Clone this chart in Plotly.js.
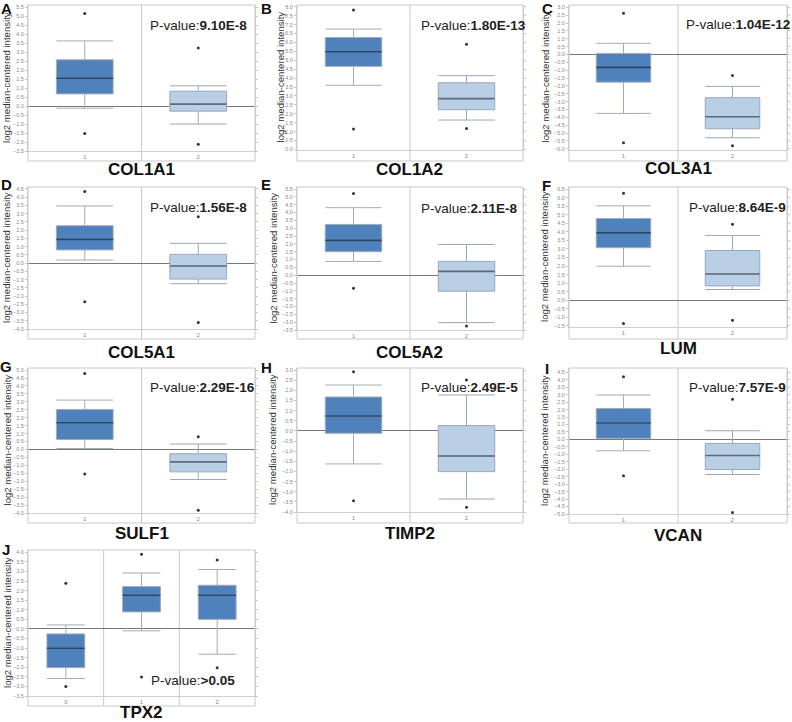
<!DOCTYPE html>
<html><head><meta charset="utf-8">
<script src="https://cdn.plot.ly/plotly-3.0.1.min.js"></script>
<style>body{margin:0;background:#fff}#chart{width:792px;height:722px}</style>
</head><body><div id="chart"></div>
<script>
// ---------- data ----------
const panelLetters = ['A','B','C','D','E','F','G','H','I','J'];
const genes = ['COL1A1','COL1A2','COL3A1','COL5A1','COL5A2','LUM','SULF1','TIMP2','VCAN','TPX2'];
const pValues = ['9.10E-8','1.80E-13','1.04E-12','1.56E-8','2.11E-8','8.64E-9','2.29E-16','2.49E-5','7.57E-9','>0.05'];
const groupLabels = [['1','2'],['1','2'],['1','2'],['1','2'],['1','2'],['1','2'],['1','2'],['1','2'],['1','2'],['0','1','2']];
const q1Vals = [[0.68,-0.28],[4.66,2.23],[-1.76,-4.73],[0.80,-0.97],[1.50,-1.02],[3.07,0.84],[0.63,-1.41],[-0.12,-2.01],[0.07,-2.02],[-2.02,0.89,0.50]];
const medianVals = [[1.55,0.11],[5.48,2.85],[-0.82,-3.96],[1.44,-0.18],[2.22,0.24],[3.94,1.54],[1.68,-0.78],[0.73,-1.24],[1.10,-1.08],[-1.01,1.76,1.76]];
const q3Vals = [[2.58,0.83],[6.28,3.74],[0.07,-2.75],[2.27,0.53],[3.24,0.88],[4.78,2.91],[2.52,-0.27],[1.67,0.26],[2.08,-0.27],[-0.26,2.21,2.28]];
const lowerWhisker = [[-0.12,-1.00],[3.60,1.65],[-3.75,-5.30],[0.19,-1.25],[0.88,-3.03],[1.99,0.63],[0.06,-1.89],[-1.63,-3.36],[-0.76,-2.35],[-2.59,-0.10,-1.32]];
const upperWhisker = [[3.63,1.13],[6.75,4.14],[0.71,-2.03],[3.47,1.20],[4.31,1.96],[5.52,3.79],[3.11,0.34],[2.26,1.77],[2.98,0.58],[0.21,2.92,3.10]];
const maxPoints = [[5.15,3.24],[7.82,5.90],[2.62,-1.33],[4.34,2.82],[5.22,null],[6.25,4.45],[4.79,0.80],[2.92,2.51],[4.21,2.69],[2.38,3.90,3.60]];
const minPoints = [[-1.52,-2.12],[1.15,1.17],[-5.62,-5.81],[-2.34,-3.60],[-0.84,-3.25],[-1.36,-1.16],[-1.55,-3.82],[-3.44,-3.77],[-2.43,-4.90],[-3.00,-2.51,-2.02]];
const yRanges = [[-2.5,5.63],[-0.03,8.1],[-6.08,3.15],[-4.0,4.62],[-3.5,5.63],[-1.56,6.62],[-4.0,5.13],[-4.0,3.1],[-5.0,4.79],[-3.5,4.12]];

// ---------- geometry (pixels) ----------
const W = 792, H = 722;
const cols = [[28,255],[297,523],[569,787]];
const geom = [
  {c:0, top:5,   axB:151, frB:161, tY:170, pX:148, pY:26,  lX:6,   lY:8,   yt:7},
  {c:1, top:5,   axB:150, frB:161, tY:170, pX:419, pY:26,  lX:266, lY:8,   yt:280},
  {c:2, top:5,   axB:150, frB:161, tY:168, pX:684, pY:24,  lX:547, lY:8,   yt:545},
  {c:0, top:187, axB:329, frB:339, tY:352, pX:148, pY:207, lX:6,   lY:184, yt:7},
  {c:1, top:187, axB:330, frB:339, tY:352, pX:419, pY:208, lX:266, lY:184, yt:273},
  {c:2, top:187, axB:327, frB:339, tY:349, pX:687, pY:207, lX:546, lY:185, yt:544},
  {c:0, top:368, axB:513, frB:523, tY:533, pX:148, pY:387, lX:6,   lY:366, yt:7},
  {c:1, top:368, axB:512, frB:523, tY:533, pX:419, pY:387, lX:266, lY:367, yt:273},
  {c:2, top:368, axB:514, frB:523, tY:535, pX:687, pY:387, lX:547, lY:368, yt:544},
  {c:0, top:550, axB:696, frB:706, tY:712, pX:149, pY:680, lX:6,   lY:549, yt:7}
];
const fx = x => x / W;
const fy = y => 1 - y / H;

const DARK = '#4f81bd', LIGHT = '#b9cfe6';
const FONT = 'Liberation Sans, Arial, sans-serif';

const traces = [];
const layout = {
  width: W, height: H, margin: {l:0, r:0, t:0, b:0},
  paper_bgcolor: '#fff', plot_bgcolor: '#fff',
  showlegend: false, shapes: [], annotations: []
};

genes.forEach((gene, p) => {
  const g = geom[p];
  const [L, R] = cols[g.c];
  const n = groupLabels[p].length;
  const xa = 'x' + (p ? p + 1 : ''), ya = 'y' + (p ? p + 1 : '');
  const xk = 'xaxis' + (p ? p + 1 : ''), yk = 'yaxis' + (p ? p + 1 : '');
  const idx = groupLabels[p].map((_, i) => i);

  layout[xk] = {
    domain: [fx(L), fx(R)], anchor: ya, range: [-0.5, n - 0.5],
    tickvals: idx, ticktext: groupLabels[p], showgrid: false, zeroline: false,
    showline: true, linecolor: '#cfcfcf', linewidth: 1, ticks: '',
    tickfont: {size: 6, color: '#888', family: FONT}, fixedrange: true
  };
  layout[yk] = {
    domain: [fy(g.axB), fy(g.top)], anchor: xa, range: yRanges[p],
    dtick: 0.5, tick0: 0, tickformat: '.1f', showgrid: false,
    zeroline: true, zerolinecolor: '#777', zerolinewidth: 1,
    showline: true, linecolor: '#cfcfcf', linewidth: 1, mirror: 'ticks',
    ticks: 'outside', ticklen: 2, tickcolor: '#c4c4c4', tickwidth: 1,
    tickfont: {size: 5.5, color: '#8a8a8a', family: FONT}, fixedrange: true
  };

  // frame and separators
  layout.shapes.push({type:'rect', xref:'paper', yref:'paper', x0:fx(L), x1:fx(R), y0:fy(g.frB), y1:fy(g.top),
    line:{color:'#c8c8c8', width:1}, layer:'above'});
  for (let s = 0; s < n - 1; s++) {
    layout.shapes.push({type:'line', xref:xa, yref:'paper', x0:s + 0.5, x1:s + 0.5, y0:fy(g.frB), y1:fy(g.top),
      line:{color:'#c8c8c8', width:1}, layer:'below'});
  }

  idx.forEach(i => {
    const light = (p < 9 && i === 1);
    traces.push({
      type:'box', xaxis:xa, yaxis:ya, x:[i],
      q1:[q1Vals[p][i]], median:[medianVals[p][i]], q3:[q3Vals[p][i]],
      lowerfence:[lowerWhisker[p][i]], upperfence:[upperWhisker[p][i]],
      width:0.5, whiskerwidth:1, boxpoints:false,
      fillcolor: light ? LIGHT : DARK,
      line:{color: light ? '#98a8bb' : '#a3acb6', width:1},
      hoverinfo:'skip'
    });
    traces.push({
      type:'scatter', mode:'lines', xaxis:xa, yaxis:ya,
      x:[i - 0.25, i + 0.25], y:[medianVals[p][i], medianVals[p][i]],
      line:{color: light ? '#5d6b7c' : '#2c4666', width:1.6}, hoverinfo:'skip'
    });
    const px = [], py = [];
    if (maxPoints[p][i] !== null) { px.push(i); py.push(maxPoints[p][i]); }
    if (minPoints[p][i] !== null) { px.push(i); py.push(minPoints[p][i]); }
    traces.push({
      type:'scatter', mode:'markers', xaxis:xa, yaxis:ya, x:px, y:py,
      marker:{color:'#333', size:3}, hoverinfo:'skip', cliponaxis:false
    });
  });

  // panel letter
  layout.annotations.push({xref:'paper', yref:'paper', x:fx(g.lX), y:fy(g.lY), xanchor:'center', yanchor:'middle',
    text:'<b>' + panelLetters[p] + '</b>', showarrow:false, font:{size:15, color:'#111', family:FONT}});
  // y title
  layout.annotations.push({xref:'paper', yref:'paper', x:fx(g.yt), y:fy((g.top + g.axB) / 2), xanchor:'center', yanchor:'middle',
    text:'log2 median-centered intensity', textangle:-90, showarrow:false, font:{size:9.6, color:'#333', family:FONT}});
  // gene title
  layout.annotations.push({xref:'paper', yref:'paper', x:fx((L + R) / 2), y:fy(g.tY), xanchor:'center', yanchor:'middle',
    text:'<b>' + gene + '</b>', showarrow:false, font:{size:17, color:'#111', family:FONT}});
  // p-value
  layout.annotations.push({xref:'paper', yref:'paper', x:fx(g.pX), y:fy(g.pY), xanchor:'left', yanchor:'middle',
    text:'P-value:<b>' + pValues[p] + '</b>', showarrow:false, font:{size:13.5, color:'#222', family:FONT}});
});

Plotly.newPlot('chart', traces, layout, {staticPlot:true, displayModeBar:false});
</script>
</body></html>
